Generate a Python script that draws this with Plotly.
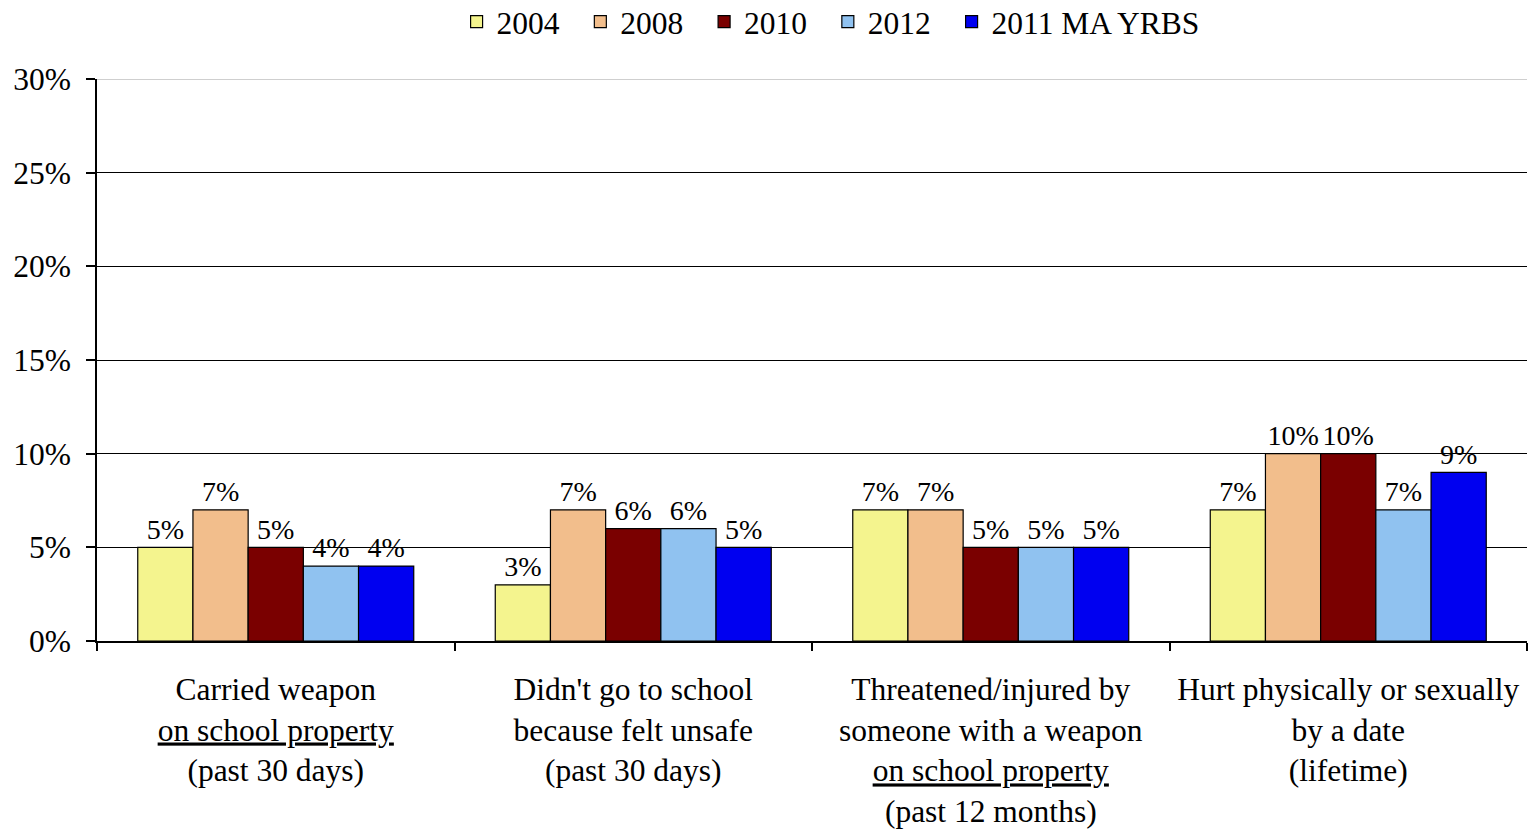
import plotly.graph_objects as go

categories = [
    "Carried weapon<br><u>on school property</u><br>(past 30 days)",
    "Didn't go to school<br>because felt unsafe<br>(past 30 days)",
    "Threatened/injured by<br>someone with a weapon<br><u>on school property</u><br>(past 12 months)",
    "Hurt physically or sexually<br>by a date<br>(lifetime)",
]
series_names = ["2004", "2008", "2010", "2012", "2011 MA YRBS"]
v2004 = [0.05, 0.03, 0.07, 0.07]
v2008 = [0.07, 0.07, 0.07, 0.10]
v2010 = [0.05, 0.06, 0.05, 0.10]
v2012 = [0.04, 0.06, 0.05, 0.07]
vyrbs = [0.04, 0.05, 0.05, 0.09]
series_values = [v2004, v2008, v2010, v2012, vyrbs]
colors = ["#F4F48E", "#F2BE8C", "#7A0000", "#90C2F0", "#0000F0"]
y_ticks = [0, 0.05, 0.10, 0.15, 0.20, 0.25, 0.30]

FONT = "Liberation Serif, Times New Roman, serif"
GAP = 0.228
NBSP = "\u00a0"

fig = go.Figure()
for i, (name, vals, col) in enumerate(zip(series_names, series_values, colors)):
    legend_label = name + (NBSP * 2 if i < len(series_names) - 1 else "")
    fig.add_trace(go.Bar(
        x=categories, y=vals, name=legend_label,
        marker=dict(color=col, line=dict(color="black", width=1.2)),
        cliponaxis=False,
    ))
# value labels, grouped like the bars
for name, vals in zip(series_names, series_values):
    fig.add_trace(go.Scatter(
        x=categories, y=vals, name=name, showlegend=False, hoverinfo="skip",
        mode="markers+text",
        marker=dict(size=1, color="rgba(0,0,0,0)"),
        text=[f"{v*100:.0f}%" for v in vals],
        textposition="top center",
        textfont=dict(family=FONT, size=28, color="black"),
        cliponaxis=False,
    ))

fig.update_layout(
    width=1531, height=835,
    margin=dict(l=97, r=4, t=79, b=194),
    paper_bgcolor="white", plot_bgcolor="white",
    barmode="group", bargap=GAP, bargroupgap=0,
    scattermode="group", scattergap=GAP,
    font=dict(family=FONT, size=31.5, color="black"),
    legend=dict(orientation="h", x=0.513, xanchor="center",
                yref="container", y=0.974, yanchor="middle",
                font=dict(family=FONT, size=31.5, color="black"),
                itemwidth=30, tracegroupgap=0),
    showlegend=True,
)
fig.update_xaxes(
    showline=True, linecolor="black", linewidth=1.5,
    ticks="outside", tickson="boundaries", ticklen=8, tickcolor="black", tickwidth=1.5,
    ticklabelstandoff=19, showgrid=False,
    tickfont=dict(family=FONT, size=31.5, color="black"),
)
fig.update_yaxes(
    range=[0, 0.30], tickvals=y_ticks, tickformat=".0%",
    showline=True, linecolor="black", linewidth=1.5,
    ticks="outside", ticklen=9, tickcolor="black", tickwidth=1.5,
    ticklabelstandoff=9,
    showgrid=True, gridcolor="black", gridwidth=1.2,
    zeroline=False,
    tickfont=dict(family=FONT, size=31.5, color="black"),
)
fig.add_shape(type="line", xref="paper", yref="y", x0=0, x1=1, y0=y_ticks[-1], y1=y_ticks[-1],
              line=dict(color="#BFBFBF", width=1.5), layer="above")

fig.write_html("out.html", config={"displayModeBar": False},
               post_script="document.body.style.margin='0px';")
